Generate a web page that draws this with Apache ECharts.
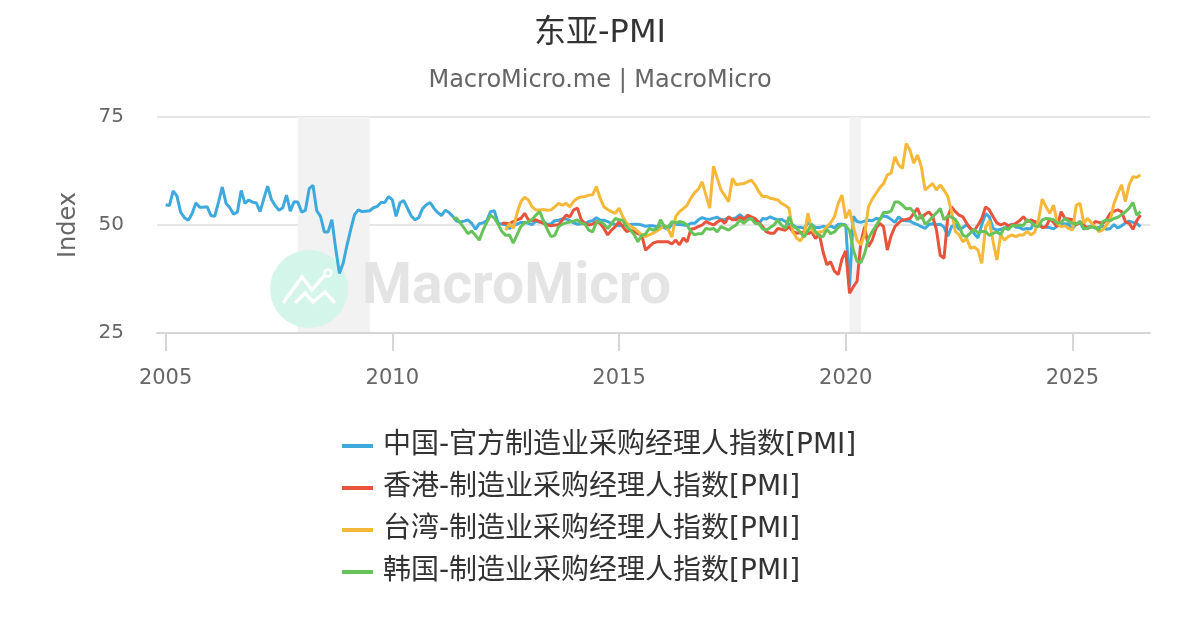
<!DOCTYPE html>
<html>
<head>
<meta charset="utf-8">
<script src="https://cdn.jsdelivr.net/npm/echarts@6/dist/echarts.min.js"></script>
<style>
  html, body { margin: 0; padding: 0; background: #fff; }
  #main { width: 1200px; height: 630px; }
</style>
</head>
<body>
<div id="main"></div>
<script>
// 各序列月度数据，起始月份见 *Start
var chinaStart = '2005-01';
var chinaPMI = [
  54.7, 54.5, 57.9, 56.7, 52.9, 51.7, 51.1, 52.6, 55.1, 54.1, 54.1, 54.2,
  52.2, 52.0, 55.3, 58.8, 55.0, 54.0, 52.5, 53.0, 58.0, 55.0, 55.8, 55.3,
  55.1, 53.1, 56.1, 59.0, 55.9, 54.5, 53.4, 54.0, 56.9, 53.2, 55.4, 55.3,
  53.0, 53.4, 58.4, 59.2, 53.3, 52.0, 48.4, 48.4, 51.2, 44.6, 38.8, 41.2,
  45.3, 49.0, 52.4, 53.5, 53.1, 53.2, 53.3, 54.0, 54.3, 55.2, 55.2, 56.6,
  55.8, 52.0, 55.1, 55.7, 53.9, 52.1, 51.2, 51.7, 53.8, 54.7, 55.2, 53.9,
  52.9, 52.2, 53.4, 52.9, 52.0, 50.9, 50.7, 50.9, 51.2, 50.4, 49.0, 50.3,
  50.5, 51.0, 53.1, 53.3, 50.4, 50.2, 50.1, 49.2, 49.8, 50.2, 50.6, 50.6,
  50.4, 50.1, 50.9, 50.6, 50.8, 50.1, 50.3, 51.0, 51.1, 51.4, 51.4, 51.0,
  50.5, 50.2, 50.3, 50.4, 50.8, 51.0, 51.7, 51.1, 51.1, 50.8, 50.3, 50.1,
  49.8, 49.9, 50.1, 50.1, 50.2, 50.2, 50.0, 49.7, 49.8, 49.8, 49.6, 49.7,
  49.4, 49.0, 50.2, 50.1, 50.1, 50.0, 49.9, 50.4, 50.4, 51.2, 51.7, 51.4,
  51.3, 51.6, 51.8, 51.2, 51.2, 51.7, 51.4, 51.7, 52.4, 51.6, 51.8, 51.6,
  51.3, 50.3, 51.5, 51.4, 51.9, 51.5, 51.2, 51.3, 50.8, 50.2, 50.0, 49.4,
  49.5, 49.2, 50.5, 50.1, 49.4, 49.4, 49.7, 49.5, 49.8, 49.3, 50.2, 50.2,
  50.0, 35.7, 52.0, 50.8, 50.6, 50.9, 51.1, 51.0, 51.5, 51.4, 52.1, 51.9,
  51.3, 50.6, 51.9, 51.1, 51.0, 50.9, 50.4, 50.1, 49.6, 49.2, 50.1, 50.3,
  50.1, 50.2, 49.5, 47.4, 49.6, 50.2, 49.0, 49.4, 50.1, 49.2, 48.0, 47.0,
  50.1, 52.6, 51.9, 49.2, 48.8, 49.0, 49.3, 49.7, 50.2, 49.5, 49.4, 49.0,
  49.2, 49.1, 50.8, 50.4, 49.5, 49.5, 49.4, 49.1, 49.8, 50.1, 50.3, 50.1,
  49.1, 50.2, 50.5, 49.0, 49.5, 49.7, 49.3, 49.4, 49.8, 49.0, 49.2, 50.1,
  49.3, 49.8, 50.5, 50.9, 50.6, 50.4, 49.6
];

var hkStart = '2012-06';
var hkPMI = [
  50.4, 50.4, 50.3, 50.8, 51.2, 51.5, 52.7,
  51.2, 51.0, 51.2, 50.8, 50.4, 50.0, 49.8, 50.0, 50.0, 51.2, 52.3, 51.9,
  53.5, 53.9, 51.2, 50.4, 50.0, 50.2, 50.8, 50.4, 49.2, 47.7, 48.8, 49.6,
  50.8, 49.6, 48.5, 48.8, 48.5, 48.0, 47.7, 44.2, 45.0, 45.8, 46.1, 46.1,
  46.1, 46.1, 45.6, 46.5, 45.4, 47.0, 46.1, 49.0, 49.2, 49.6, 50.0, 50.8,
  50.4, 50.0, 50.7, 51.2, 50.4, 51.9, 51.2, 51.2, 51.9, 51.2, 52.3, 51.9,
  51.5, 50.6, 49.6, 48.4, 48.1, 48.1, 49.2, 49.0, 48.8, 49.6, 48.5, 48.1,
  48.2, 48.4, 48.0, 48.4, 46.9, 47.9, 43.8, 40.8, 41.5, 39.3, 38.5, 42.1,
  44.0, 34.2, 35.7, 37.0, 46.0, 49.6, 45.0, 46.5, 49.2, 50.4, 49.6, 44.2,
  47.5, 49.6, 50.5, 51.2, 51.3, 51.5, 52.7, 53.9, 51.5, 52.5, 53.0, 52.0,
  48.9, 43.0, 42.3, 51.9, 54.2, 53.1, 52.3, 51.9, 50.4, 49.2, 48.7, 50.0,
  51.5, 54.2, 53.5, 51.9, 50.5, 50.0, 50.4, 49.9, 50.0, 50.4, 51.0, 51.9,
  50.8, 51.2, 50.8, 50.4, 49.4, 49.6, 51.4, 50.6, 49.6, 53.1, 51.5, 51.4,
  51.2, 50.0, 50.8, 50.0, 49.2, 49.6, 50.8, 50.6, 50.4, 51.2, 52.7, 53.2,
  53.5, 53.1, 50.8, 50.4, 49.0, 51.0, 52.3
];

var twStart = '2012-07';
var twPMI = [
  48.8, 50.4, 49.2, 52.7, 55.4, 56.4,
  55.8, 54.2, 53.5, 53.5, 53.6, 53.4, 53.5, 54.2, 55.0, 54.6, 55.0, 54.2,
  55.5, 56.2, 56.5, 56.6, 56.9, 57.0, 58.9, 56.2, 54.2, 53.6, 53.1, 52.7,
  53.9, 51.9, 50.4, 49.8, 49.2, 48.5, 47.7, 47.3, 47.7, 48.1, 48.6, 49.2,
  50.0, 49.0, 47.2, 52.0, 53.1, 53.8, 54.6, 56.2, 57.5, 58.3, 60.0, 56.9,
  53.9, 63.6, 60.8, 58.1, 56.8, 55.4, 60.8, 59.3, 59.5, 59.6, 60.0, 60.4,
  59.3, 57.7, 56.6, 56.6, 56.2, 56.0, 55.8, 55.0, 54.5, 53.9, 48.4, 47.0,
  46.3, 47.7, 52.7, 48.8, 48.1, 48.4, 48.5, 49.6, 50.5, 51.9, 55.0, 56.9,
  51.5, 53.5, 49.5, 46.5, 45.4, 47.8, 54.2, 56.0, 57.3, 58.6, 59.6, 61.6,
  62.0, 65.8, 63.9, 63.1, 68.9, 67.3, 64.3, 66.2, 63.5, 58.1, 58.9, 59.6,
  58.1, 59.3, 58.1, 56.6, 53.1, 48.5, 47.7, 46.1, 46.9, 44.6, 44.9, 44.2,
  41.1, 49.5, 51.0, 46.1, 41.9, 47.7, 46.5, 47.3, 47.7, 47.3, 47.7, 47.7,
  48.5, 47.7, 48.3, 51.2, 56.0, 54.2, 52.7, 54.6, 50.4, 49.6, 49.8, 49.2,
  48.8, 54.6, 55.0, 50.4, 51.5, 50.5, 49.6, 48.5, 48.8, 50.0, 51.2, 55.0,
  57.3, 59.3, 55.4, 59.3, 61.2, 61.0, 61.6
];

var krStart = '2011-05';
var krPMI = [
  51.5, 51.6, 50.5, 49.3, 48.0, 48.6, 47.6, 46.5,
  48.8, 50.6, 52.3, 51.6, 50.2, 48.5, 47.6, 47.7, 45.8, 47.7, 49.6, 50.5,
  50.7, 51.3, 52.3, 53.1, 51.0, 49.0, 47.3, 47.6, 49.6, 50.2, 50.5, 50.7,
  50.9, 51.2, 50.4, 50.2, 48.8, 48.4, 50.6, 50.8, 50.2, 49.2, 50.3, 51.5,
  51.2, 51.1, 49.6, 48.8, 47.8, 46.1, 47.6, 47.9, 49.2, 48.8, 49.1, 51.2,
  49.6, 49.5, 50.8, 50.5, 50.8, 50.6, 50.0, 48.5, 47.7, 48.0, 48.0, 49.2,
  49.0, 49.2, 48.4, 49.6, 49.2, 48.8, 49.5, 50.0, 51.2, 50.4, 51.2, 51.5,
  50.4, 50.3, 49.1, 48.8, 49.4, 50.0, 51.1, 50.0, 49.2, 51.9, 49.8, 49.2,
  48.3, 47.2, 48.8, 50.2, 48.4, 47.5, 47.3, 49.0, 48.0, 48.4, 49.4, 50.1,
  49.8, 48.7, 44.2, 41.6, 41.3, 43.4, 46.9, 48.5, 49.8, 51.2, 52.9, 52.9,
  53.2, 55.3, 55.3, 54.6, 53.7, 53.9, 53.0, 51.2, 52.4, 50.2, 50.9, 51.9,
  52.8, 53.8, 51.2, 52.1, 51.8, 51.3, 49.8, 47.6, 47.3, 48.2, 49.0, 48.2,
  48.5, 48.5, 47.6, 48.1, 48.4, 47.8, 49.4, 48.9, 49.9, 49.8, 50.0, 49.9,
  51.2, 50.7, 49.8, 49.6, 51.2, 51.5, 51.4, 51.2, 50.4, 50.6, 51.5, 50.8,
  50.4, 50.2, 50.8, 49.2, 49.2, 49.6, 49.4, 48.8, 50.8, 51.2, 51.0, 51.5,
  51.8, 52.4, 53.0, 53.9, 55.2, 52.3, 53.1
];

var seriesNames = [
  '中国-官方制造业采购经理人指数[PMI]',
  '香港-制造业采购经理人指数[PMI]',
  '台湾-制造业采购经理人指数[PMI]',
  '韩国-制造业采购经理人指数[PMI]'
];
var seriesColors = ['#3ea9dc', '#e9523b', '#f6b839', '#66c35a'];

// 衰退区间（小数年份）
var recessions = [[2007.917, 2009.5], [2020.083, 2020.333]];
var yearTicks = [2005, 2010, 2015, 2020, 2025];
var yTicks = { min: 25, max: 75, step: 25 };

var FONT = "'DejaVu Sans', 'Noto Sans CJK SC', sans-serif";

function toPoints(start, values) {
  var p = start.split('-');
  var y = +p[0], m = +p[1];
  return values.map(function (v, i) {
    return [y + (m - 1 + i) / 12, v];
  });
}

var allData = [
  toPoints(chinaStart, chinaPMI),
  toPoints(hkStart, hkPMI),
  toPoints(twStart, twPMI),
  toPoints(krStart, krPMI)
];

var series = [{
  type: 'line',
  data: [],
  z: 0,
  silent: true,
  markArea: {
    z: 0,
    silent: true,
    itemStyle: { color: '#f2f2f2' },
    data: recessions.map(function (r) {
      return [{ xAxis: r[0] }, { xAxis: r[1] }];
    })
  }
}];
allData.forEach(function (d, i) {
  series.push({
    name: seriesNames[i],
    type: 'line',
    data: d,
    showSymbol: false,
    z: 3,
    lineStyle: { width: 3, color: seriesColors[i] },
    itemStyle: { color: seriesColors[i] }
  });
});

var option = {
  animation: false,
  backgroundColor: '#fff',
  textStyle: { fontFamily: FONT },
  title: [{
    text: '东亚-PMI',
    left: 'center',
    top: 13,
    textStyle: { fontSize: 32, fontWeight: 'normal', color: '#333', fontFamily: FONT }
  }, {
    text: 'MacroMicro.me | MacroMicro',
    left: 'center',
    top: 64,
    textStyle: { fontSize: 24, fontWeight: 'normal', color: '#666', fontFamily: FONT }
  }],
  grid: { left: 157, right: 50, top: 117, bottom: 297, containLabel: false },
  legend: {
    orient: 'vertical',
    left: 337,
    top: 427,
    data: seriesNames,
    icon: 'rect',
    itemWidth: 31,
    itemHeight: 4,
    itemGap: 14,
    textStyle: { fontSize: 28, color: '#333', fontFamily: FONT, padding: [0, 0, 0, 5] }
  },
  xAxis: {
    type: 'value',
    min: 2004.81,
    max: 2026.71,
    axisLine: { lineStyle: { color: '#d6d6d6', width: 2 } },
    axisTick: { show: true, length: 18, lineStyle: { color: '#d6d6d6', width: 2 }, customValues: yearTicks },
    axisLabel: {
      fontSize: 21, color: '#666', margin: 35, fontFamily: FONT,
      customValues: yearTicks,
      formatter: function (v) { return String(Math.round(v)); }
    },
    splitLine: { show: false }
  },
  yAxis: {
    type: 'value',
    min: yTicks.min,
    max: yTicks.max,
    interval: yTicks.step,
    name: 'Index',
    nameLocation: 'middle',
    nameGap: 76,
    nameTextStyle: { fontSize: 24, color: '#666', fontFamily: FONT },
    axisLine: { show: false },
    axisTick: { show: false },
    axisLabel: { fontSize: 20, color: '#666', margin: 33, fontFamily: FONT },
    splitLine: { lineStyle: { color: '#e6e6e6', width: 2 } }
  },
  graphic: [
    { type: 'circle', z: 2, z2: 1, silent: true, shape: { cx: 309, cy: 289, r: 39 }, style: { fill: '#d4f5ea' } },
    { type: 'polyline', z: 2, z2: 2, silent: true, shape: { points: [[283, 303], [302, 277], [312, 290], [325, 275]] },
      style: { stroke: '#fff', lineWidth: 3.5, fill: null } },
    { type: 'circle', z: 2, z2: 3, silent: true, shape: { cx: 328, cy: 273, r: 3.5 },
      style: { fill: null, stroke: '#fff', lineWidth: 2.5 } },
    { type: 'polyline', z: 2, z2: 4, silent: true, shape: { points: [[295, 303], [305, 293], [313, 302], [325, 292], [335, 303]] },
      style: { stroke: '#fff', lineWidth: 3.5, fill: null } },
    { type: 'text', z: 2, z2: 5, silent: true, x: 362, y: 289,
      style: { text: 'MacroMicro', font: 'bold 57px Roboto', fill: '#e4e4e5', verticalAlign: 'middle' } }
  ],
  series: series
};

var chart = echarts.init(document.getElementById('main'));
chart.setOption(option);
</script>
</body>
</html>
